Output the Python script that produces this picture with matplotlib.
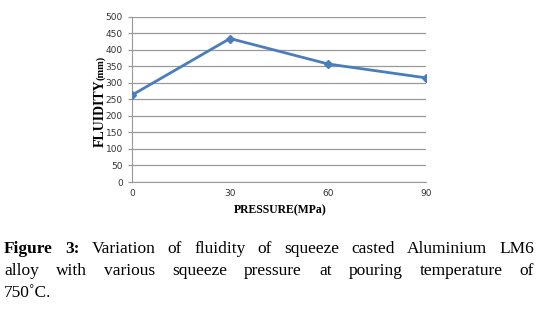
import matplotlib
matplotlib.use("Agg")
import matplotlib.pyplot as plt

# Données
pression = [0, 30, 60, 90]
fluidite = [263, 434, 357, 315]
yticks = list(range(0, 501, 50))

legende = [
    ["Figure", "3:", "Variation", "of", "fluidity", "of", "squeeze", "casted", "Aluminium", "LM6"],
    ["alloy", "with", "various", "squeeze", "pressure", "at", "pouring", "temperature", "of"],
    ["750\u02daC."],
]

fig = plt.figure(figsize=(5.38, 3.12), dpi=100)
ax = fig.add_axes([132 / 538, 1 - 182 / 312, (426 - 132) / 538, (182 - 16.7) / 312])

ax.plot(pression, fluidite, color="#4a7ebb", lw=2, marker="D", ms=4.5, zorder=3)
ax.set_xlim(0, 90)
ax.set_ylim(0, 500)
ax.set_xticks(pression)
ax.set_yticks(yticks)
ax.grid(axis="y", color="#999999", lw=0.9)
for s in ["top", "right"]:
    ax.spines[s].set_visible(False)
for s in ["left", "bottom"]:
    ax.spines[s].set_color("#999999")
ax.tick_params(axis="both", colors="#999999", labelcolor="#333333", labelsize=6.5, length=3, width=0.9)
ax.tick_params(axis="x", length=0, pad=5)
for lab in ax.get_xticklabels() + ax.get_yticklabels():
    lab.set_family("DejaVu Sans")

fig.text(280 / 538, 1 - 210 / 312, "PRESSURE(MPa)", ha="center", va="center",
         family="Liberation Serif", weight="bold", fontsize=8.5)
fig.text(100 / 538, 1 - 113 / 312, "FLUIDITY", rotation=90, ha="center", va="center",
         family="Liberation Serif", weight="bold", fontsize=10)
fig.text(101 / 538, 1 - 68 / 312, "(mm)", rotation=90, ha="center", va="center",
         family="Liberation Serif", weight="bold", fontsize=7.5)

# Légende justifiée
r = fig.canvas.get_renderer()
x0, x1 = 4, 534
bases = [253, 275, 297]
for i, mots in enumerate(legende):
    textes = []
    for j, m in enumerate(mots):
        gras = i == 0 and j < 2
        t = fig.text(0, 0, m, family="Liberation Serif", fontsize=12.5,
                     weight="bold" if gras else "normal", va="baseline")
        textes.append(t)
    larg = [t.get_window_extent(r).width for t in textes]
    if i < len(legende) - 1 and len(mots) > 1:
        esp = (x1 - x0 - sum(larg)) / (len(mots) - 1)
    else:
        esp = 4
    x = x0
    for t, w in zip(textes, larg):
        t.set_position((x / 538, 1 - bases[i] / 312))
        x += w + esp

fig.savefig("out.png", dpi=100)
